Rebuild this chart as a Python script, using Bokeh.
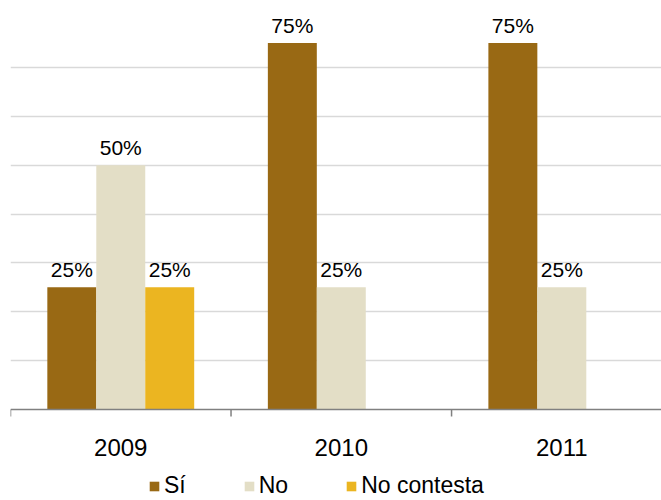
from bokeh.plotting import figure
from bokeh.models import (ColumnDataSource, Range1d, FixedTicker, Grid, Legend,
                          LegendItem, LabelSet, Span)
from bokeh.embed import file_html
from bokeh.resources import INLINE
from bokeh.core.properties import value

# ---- data ----
years = ["2009", "2010", "2011"]
series_names = ["Sí", "No", "No contesta"]
si = [0.25, 0.75, 0.75]
no = [0.50, 0.25, 0.25]
no_contesta = [0.25, 0.0, 0.0]
colors = ["#996914", "#E3DEC6", "#EBB521"]
grid_ticks = [0.1, 0.2, 0.3, 0.4, 0.5, 0.6, 0.7, 0.8]

FONT = "Liberation Sans"
AXIS_GREY = "#808080"
bar_w = 0.222
x_end = 2.952
y_max = 0.8
plot_px = 391          # pixel height of the 0..y_max band
below_px = 91          # room below the baseline for year labels and legend
y_start = -y_max * below_px / plot_px
tick_len = 7 * y_max / plot_px

p = figure(width=661, height=500, output_backend="svg", toolbar_location=None,
           x_range=Range1d(0, x_end), y_range=Range1d(y_start, y_max),
           x_axis_type=None, y_axis_type=None,
           min_border_left=10, min_border_right=0,
           min_border_top=18, min_border_bottom=0)
p.outline_line_color = None
p.add_layout(Grid(dimension=1, ticker=FixedTicker(ticks=grid_ticks),
                  grid_line_color="#d9d9d9", grid_line_width=1.5))

centers = [i + 0.5 for i in range(len(years))]
items = []
for k, (name, vals, col) in enumerate(zip(series_names, [si, no, no_contesta], colors)):
    off = (k - 1) * bar_w
    xs = [c + off for c, v in zip(centers, vals) if v > 0]
    ys = [v for v in vals if v > 0]
    labels = [f"{round(v * 100)}%" for v in ys]
    src = ColumnDataSource(dict(x=xs, top=ys, label=labels))
    r = p.vbar(x="x", top="top", width=bar_w, bottom=0, source=src,
               fill_color=col, line_color=None)
    p.add_layout(LabelSet(x="x", y="top", text="label", source=src,
                          text_align="center", text_baseline="alphabetic",
                          y_offset=10, text_font=value(FONT),
                          text_font_size="21px", text_color="#000000"))
    items.append(LegendItem(label=name, renderers=[r]))

# category axis: baseline, boundary ticks and year labels
p.add_layout(Span(location=0, dimension="width", line_color=AXIS_GREY,
                  line_width=1.5))
bounds = list(range(len(years) + 1))
p.segment(x0=bounds, y0=[0] * len(bounds), x1=bounds,
          y1=[-tick_len] * len(bounds), line_color=AXIS_GREY, line_width=1.5)
ysrc = ColumnDataSource(dict(x=centers, y=[0] * len(years), label=years))
p.add_layout(LabelSet(x="x", y="y", text="label", source=ysrc,
                      text_align="center", text_baseline="alphabetic",
                      y_offset=-46, text_font=value(FONT),
                      text_font_size="24px", text_color="#000000"))

legend = Legend(items=items, orientation="horizontal", location=(138, 1),
                glyph_width=12, glyph_height=12, label_standoff=4, spacing=57,
                label_text_font=FONT, label_text_font_size="23px",
                label_text_color="#000000", padding=0, margin=0,
                border_line_alpha=0, background_fill_alpha=0)
p.add_layout(legend, "center")

open("out.html", "w").write(file_html(p, INLINE))
